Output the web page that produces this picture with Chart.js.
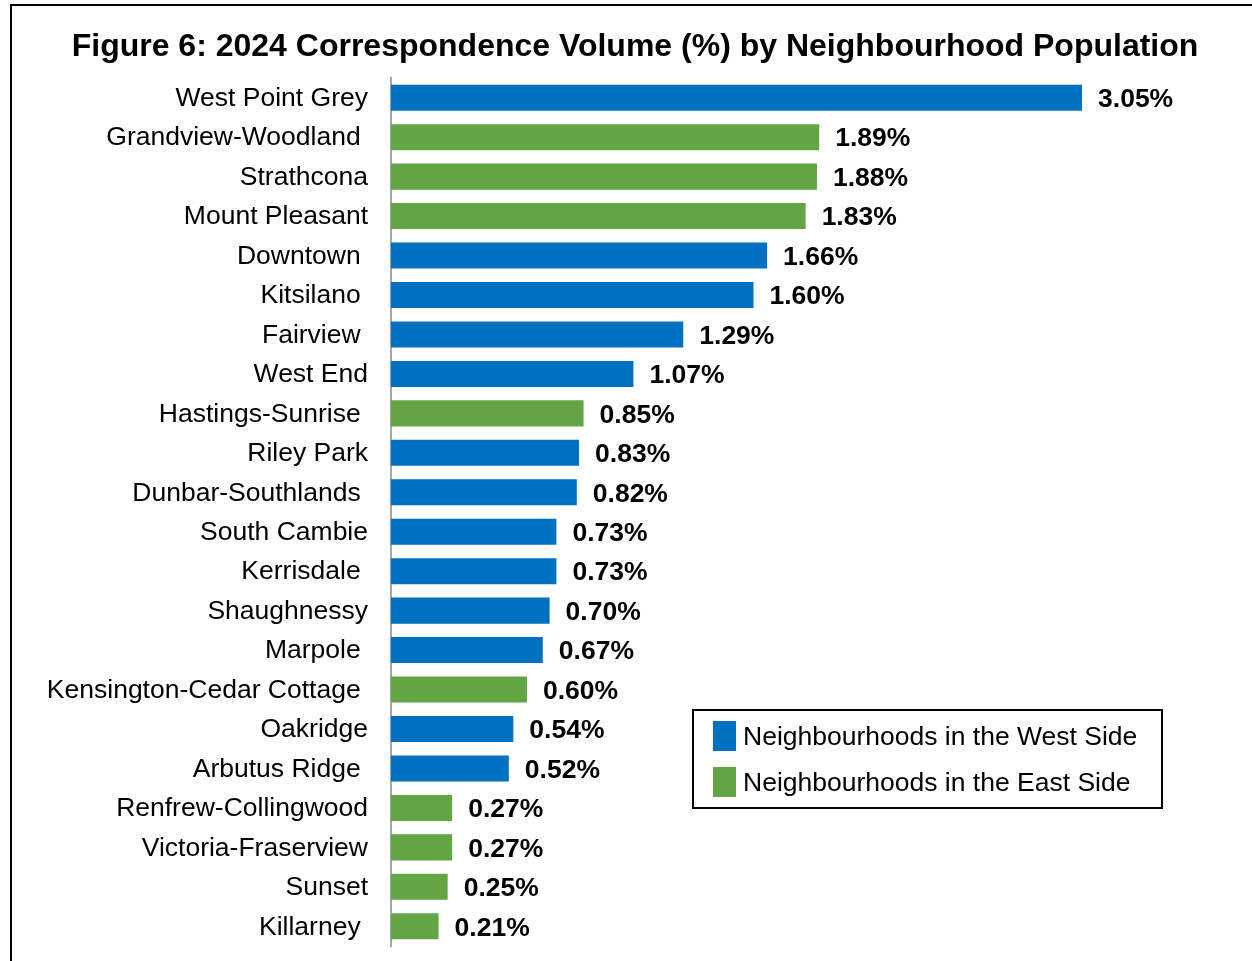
<!DOCTYPE html>
<html>
<head>
<meta charset="utf-8">
<script src="https://cdn.jsdelivr.net/npm/chart.js@4.4.1/dist/chart.umd.min.js"></script>
<style>
  html, body { margin: 0; padding: 0; background: #fff; }
  #wrap { position: relative; width: 1252px; height: 961px; overflow: hidden; }
  #frame { position: absolute; left: 10px; top: 4px; width: 1400px; height: 1100px;
           border-left: 2px solid #000; border-top: 2px solid #000; }
  #box { position: absolute; left: 0; top: 0; width: 1252px; height: 961px; }
</style>
</head>
<body>
<div id="wrap">
  <div id="frame"></div>
  <div id="box"><canvas id="myChart"></canvas></div>
</div>
<script>
// neighbourhoods, sorted by share of correspondence
var neighbourhoods = [
  'West Point Grey', 'Grandview-Woodland ', 'Strathcona', 'Mount Pleasant',
  'Downtown ', 'Kitsilano ', 'Fairview ', 'West End', 'Hastings-Sunrise ',
  'Riley Park', 'Dunbar-Southlands ', 'South Cambie', 'Kerrisdale ',
  'Shaughnessy', 'Marpole ', 'Kensington-Cedar Cottage ', 'Oakridge',
  'Arbutus Ridge ', 'Renfrew-Collingwood', 'Victoria-Fraserview', 'Sunset',
  'Killarney '
];
var volumePct = [
  3.05, 1.89, 1.88, 1.83, 1.66, 1.60, 1.29, 1.07, 0.85, 0.83, 0.82,
  0.73, 0.73, 0.70, 0.67, 0.60, 0.54, 0.52, 0.27, 0.27, 0.25, 0.21
];
var side = [
  'W', 'E', 'E', 'E', 'W', 'W', 'W', 'W', 'E', 'W', 'W',
  'W', 'W', 'W', 'W', 'E', 'W', 'W', 'E', 'E', 'E', 'E'
];
var legendLabels = ['Neighbourhoods in the West Side', 'Neighbourhoods in the East Side'];
var titleText = 'Figure 6: 2024 Correspondence Volume (%) by Neighbourhood Population';

var WEST = '#0070C0';
var EAST = '#63A545';
var FONT = '"Liberation Sans", Arial, sans-serif';

var extras = {
  id: 'extras',
  afterDatasetsDraw: function(chart) {
    var ctx = chart.ctx;
    var meta = chart.getDatasetMeta(0);
    ctx.save();
    // title
    ctx.fillStyle = '#000';
    ctx.font = 'bold 32px ' + FONT;
    ctx.textAlign = 'center';
    ctx.textBaseline = 'middle';
    ctx.fillText(titleText, 635, 47);

    // value labels at the end of each bar
    ctx.font = 'bold 26.5px ' + FONT;
    ctx.textAlign = 'left';
    meta.data.forEach(function(bar, i) {
      ctx.fillText(volumePct[i].toFixed(2) + '%', bar.x + 16, bar.y + 2);
    });

    // legend box
    var lx = 693, ly = 710, lw = 469, lh = 98;
    ctx.lineWidth = 2;
    ctx.strokeStyle = '#000';
    ctx.strokeRect(lx, ly, lw, lh);
    ctx.font = '26.5px ' + FONT;
    [WEST, EAST].forEach(function(c, i) {
      var cy = ly + 26 + i * 46;
      ctx.fillStyle = c;
      ctx.fillRect(lx + 20, cy - 15, 23, 30);
      ctx.fillStyle = '#000';
      ctx.fillText(legendLabels[i], lx + 50, cy + 2);
    });
    ctx.restore();
  }
};

var ctx = document.getElementById('myChart').getContext('2d');
var myChart = new Chart(ctx, {
  type: 'bar',
  data: {
    labels: neighbourhoods,
    datasets: [{
      data: volumePct,
      backgroundColor: side.map(function(s) { return s === 'W' ? WEST : EAST; }),
      categoryPercentage: 1,
      barPercentage: 0.66
    }]
  },
  options: {
    indexAxis: 'y',
    responsive: true,
    maintainAspectRatio: false,
    animation: false,
    layout: { padding: { top: 78, bottom: 15, right: 68, left: 0 } },
    plugins: { legend: { display: false }, tooltip: { enabled: false } },
    scales: {
      x: { display: false, min: 0, max: 3.5 },
      y: {
        afterFit: function(scale) {
          scale.width = 391;
          scale.paddingTop = 0;
          scale.paddingBottom = 0;
        },
        grid: { drawOnChartArea: false, drawTicks: false },
        border: { display: true, color: '#a6a6a6', width: 2 },
        ticks: { color: '#000', padding: 23, labelOffset: 1, font: { family: FONT, size: 26.5 } }
      }
    }
  },
  plugins: [extras]
});
</script>
</body>
</html>
